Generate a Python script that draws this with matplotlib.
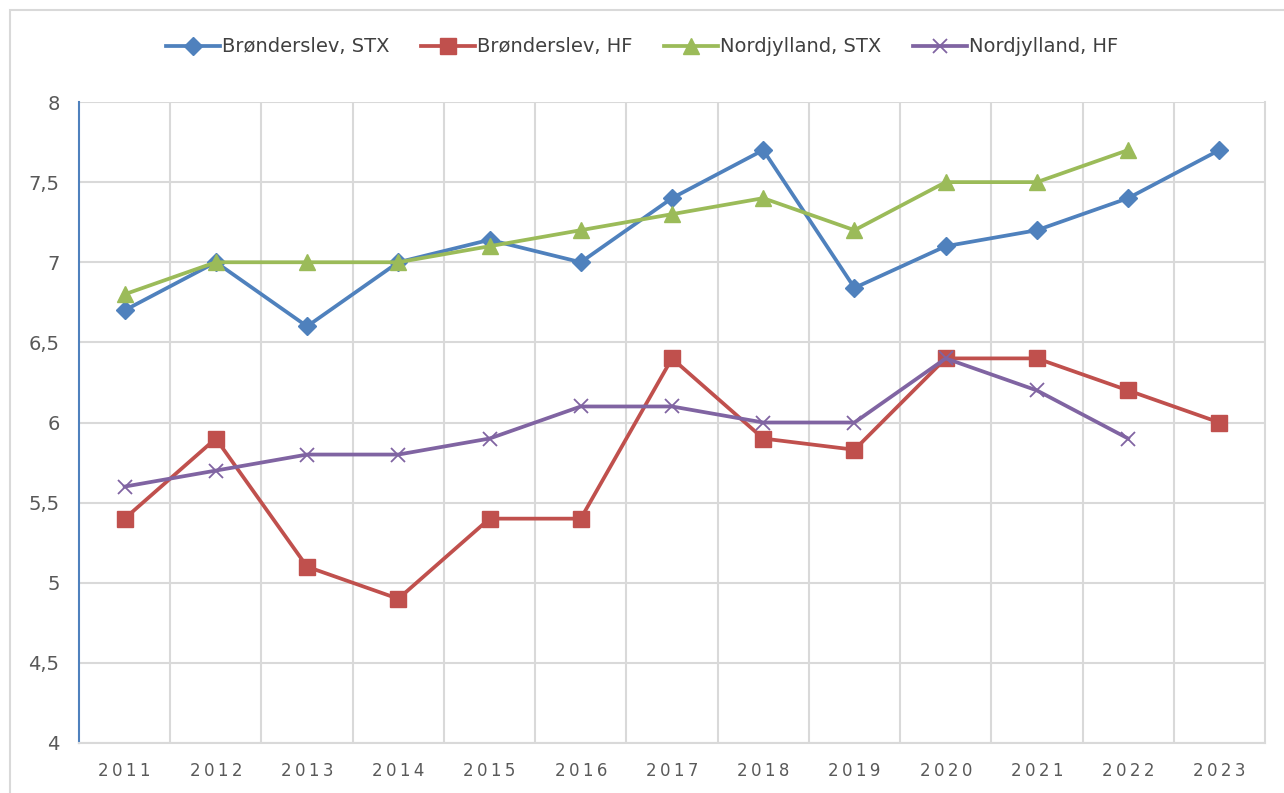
import numpy as np
import matplotlib
matplotlib.use('Agg')
import matplotlib.pyplot as plt
from matplotlib.patches import Rectangle
from matplotlib.ticker import FuncFormatter

plt.rcParams['font.family'] = ['Liberation Sans Narrow', 'DejaVu Sans']

# data
years = ['2011', '2012', '2013', '2014', '2015', '2016', '2017',
         '2018', '2019', '2020', '2021', '2022', '2023']
bronderslev_stx = [6.7, 7.0, 6.6, 7.0, 7.14, 7.0, 7.4, 7.7, 6.84, 7.1, 7.2, 7.4, 7.7]
bronderslev_hf = [5.4, 5.9, 5.1, 4.9, 5.4, 5.4, 6.4, 5.9, 5.83, 6.4, 6.4, 6.2, 6.0]
nordjylland_stx = [6.8, 7.0, 7.0, 7.0, 7.1, 7.2, 7.3, 7.4, 7.2, 7.5, 7.5, 7.7, np.nan]
nordjylland_hf = [5.6, 5.7, 5.8, 5.8, 5.9, 6.1, 6.1, 6.0, 6.0, 6.4, 6.2, 5.9, np.nan]

x = np.arange(len(years))

fig = plt.figure(figsize=(12.84, 7.93), dpi=100)
# outer chart border
fig.patches.append(Rectangle((10 / 1284, -0.01), 1.02, 1 - 10 / 793 + 0.01,
                             transform=fig.transFigure, fill=False,
                             edgecolor='#d9d9d9', linewidth=1.5))
ax = fig.add_axes([79 / 1284, 1 - 743 / 793, (1265 - 79) / 1284, (743 - 102) / 793])

ax.plot(x, bronderslev_stx, color='#4F81BD', lw=2.7, marker='D', ms=9,
        label='Brønderslev, STX')
ax.plot(x, bronderslev_hf, color='#C0504D', lw=2.7, marker='s', ms=11,
        label='Brønderslev, HF')
ax.plot(x, nordjylland_stx, color='#9BBB59', lw=2.7, marker='^', ms=11,
        label='Nordjylland, STX')
ax.plot(x, nordjylland_hf, color='#8064A2', lw=2.7, marker='x', ms=10, mew=1.3,
        label='Nordjylland, HF')

ax.set_xlim(-0.5, len(years) - 0.5)
ax.set_ylim(4, 8)
ax.set_yticks(np.arange(4, 8.01, 0.5))
ax.yaxis.set_major_formatter(FuncFormatter(lambda v, p: ('%g' % v).replace('.', ',')))
ax.set_xticks(x)
ax.set_xticklabels(['\u2009'.join(y) for y in years])
ax.set_xticks(np.arange(0.5, len(years) - 0.5, 1), minor=True)
ax.tick_params(axis='x', which='both', length=0, pad=14, labelsize=12, labelcolor='#595959')
ax.tick_params(axis='y', length=0, pad=14, labelsize=14, labelcolor='#595959')

ax.grid(False)
ax.yaxis.grid(True, color='#d9d9d9', lw=1.5)
ax.xaxis.grid(True, which='minor', color='#d9d9d9', lw=1.5)
ax.set_axisbelow(True)

ax.spines['top'].set_visible(False)
ax.spines['right'].set_color('#d9d9d9')
ax.spines['right'].set_linewidth(1.5)
ax.spines['bottom'].set_color('#d9d9d9')
ax.spines['bottom'].set_linewidth(1.5)
ax.spines['left'].set_color('#4F81BD')
ax.spines['left'].set_linewidth(1.5)

leg = fig.legend(loc='center', bbox_to_anchor=(0.5, 1 - 47 / 793), ncol=4,
                 frameon=False, fontsize=14, handlelength=2.8, columnspacing=1.6,
                 handletextpad=0.1, labelcolor='#404040')

fig.savefig('out.png', dpi=100)
